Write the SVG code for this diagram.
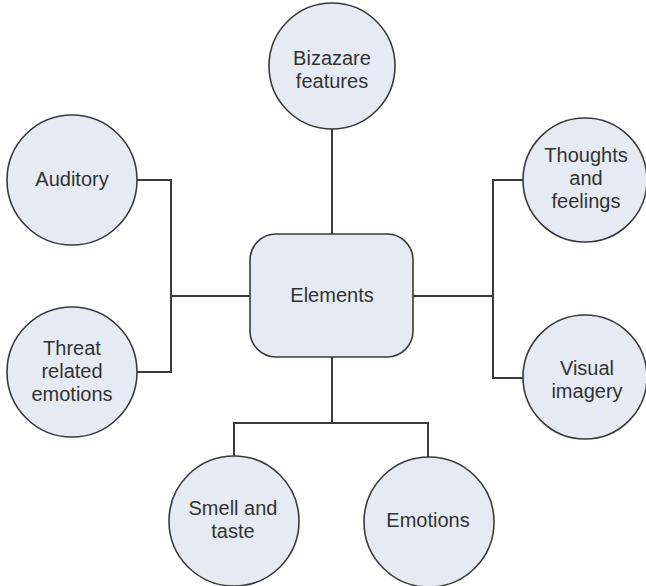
<svg xmlns="http://www.w3.org/2000/svg" width="646" height="586" viewBox="0 0 646 586">
<style>
.n{fill:#e6eaf2;stroke:#3a3a3a;stroke-width:1.6}
.c{fill:none;stroke:#3a3a3a;stroke-width:2}
text{font-family:"Liberation Sans",Arial,sans-serif;font-size:20px;fill:#333;text-anchor:middle}
</style>
<rect width="646" height="586" fill="#fff"/>
<g id="connectors">
<path class="c" d="M332,128 V234"/>
<path class="c" d="M137,180 H171 V372 H137"/>
<path class="c" d="M171,296 H250"/>
<path class="c" d="M413,296 H493"/>
<path class="c" d="M523,180 H493 V378 H523"/>
<path class="c" d="M332,357 V423"/>
<path class="c" d="M234,457 V423 H428 V457"/>
</g>
<g id="bizazare"><circle class="n" cx="332" cy="66" r="63"/><text x="332" y="65">Bizazare</text><text x="332" y="88">features</text></g>
<g id="elements"><rect class="n" x="250" y="234" width="163" height="123" rx="26"/><text x="332" y="302">Elements</text></g>
<g id="auditory"><circle class="n" cx="72" cy="180" r="65"/><text x="72" y="186">Auditory</text></g>
<g id="threat"><circle class="n" cx="72" cy="372" r="65"/><text x="72" y="355">Threat</text><text x="72" y="378">related</text><text x="72" y="401">emotions</text></g>
<g id="thoughts"><circle class="n" cx="585" cy="180" r="62"/><text x="586" y="162">Thoughts</text><text x="586" y="185">and</text><text x="586" y="208">feelings</text></g>
<g id="visual"><circle class="n" cx="585" cy="377" r="62"/><text x="587" y="375">Visual</text><text x="587" y="398">imagery</text></g>
<g id="smell"><circle class="n" cx="234" cy="521" r="65"/><text x="233" y="515">Smell and</text><text x="233" y="538">taste</text></g>
<g id="emotions"><circle class="n" cx="429" cy="522" r="65"/><text x="428" y="527">Emotions</text></g>
</svg>
